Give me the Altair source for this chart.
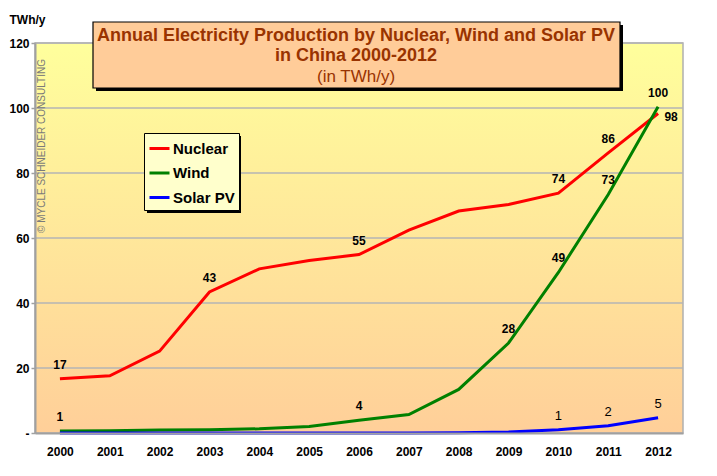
import altair as alt
import pandas as pd

# ---------------- data ----------------
years = [str(y) for y in range(2000, 2013)]
nuclear = [16.7, 17.6, 25.2, 43.4, 50.5, 53.1, 54.9, 62.4, 68.3, 70.3, 73.8, 86.2, 98.3]
wind = [0.6, 0.7, 0.9, 1.0, 1.3, 2.0, 3.9, 5.7, 13.4, 27.7, 49.4, 73.4, 100.4]
solar = [0.0, 0.0, 0.0, 0.0, 0.0, 0.0, 0.0, 0.0, 0.1, 0.3, 1.0, 2.2, 4.7]

nuclear_labels = ["17", "", "", "43", "", "", "55", "", "", "", "74", "86", ""]
nuclear_side_label = ["", "", "", "", "", "", "", "", "", "", "", "", "98"]
wind_labels = ["1", "", "", "", "", "", "4", "", "", "28", "49", "73", "100"]
solar_labels = ["", "", "", "", "", "", "", "", "", "", "1", "2", "5"]

series_names = ["Nuclear", "Wind", "Solar PV"]
series_colors = ["#FF0000", "#008000", "#0000FF"]
y_ticks = [0, 20, 40, 60, 80, 100, 120]
grid_values = [20, 40, 60, 80, 100, 120]

title_lines = ["Annual Electricity Production by Nuclear, Wind and Solar PV",
               "in China 2000-2012"]
subtitle = "(in TWh/y)"
copyright_text = "© MYCLE SCHNEIDER CONSULTING"

rows = []
for name, vals, labs in zip(series_names, [nuclear, wind, solar],
                            [nuclear_labels, wind_labels, solar_labels]):
    for yr, v, lab in zip(years, vals, labs):
        rows.append({"year": yr, "series": name, "value": v, "label": lab})
df = pd.DataFrame(rows)
side_df = pd.DataFrame({"year": years, "value": nuclear, "label": nuclear_side_label})
side_df = side_df[side_df["label"] != ""]
grid_df = pd.DataFrame({"value": grid_values})
one = pd.DataFrame({"k": [0]})

W, H = 648, 390
FONT = "Liberation Sans"

x_enc = alt.X("year:O", scale=alt.Scale(type="point", padding=0.5),
              axis=alt.Axis(title=None, labelAngle=0, ticks=False, labelPadding=13,
                            domainColor="#A0A0A0", domainWidth=2, grid=False,
                            labelFontSize=12, labelFontWeight="bold", labelColor="black",
                            zindex=1))
y_axis = alt.Axis(values=y_ticks, grid=False,
                  labelExpr="datum.value == 0 ? '-' : datum.label",
                  title="TWh/y", titleAngle=0, titleX=-26, titleY=-24,
                  titleAlign="left", titleBaseline="middle",
                  titleFontSize=12, titleFontWeight="bold", titleColor="black",
                  domainColor="#A0A0A0", domainWidth=2,
                  tickColor="#A0A0A0", tickSize=4, tickWidth=1.5,
                  labelPadding=2, labelFontSize=12, labelFontWeight="bold",
                  labelColor="black", zindex=1)
y_scale = alt.Scale(domain=[0, 120], nice=False)
y_enc = alt.Y("value:Q", scale=y_scale, axis=y_axis)

# background gradient of plot area
bg = alt.Chart(one).mark_rect(
    color=alt.LinearGradient(gradient="linear",
                             stops=[alt.GradientStop(color="#FFFF9C", offset=0),
                                    alt.GradientStop(color="#FFCF99", offset=1)],
                             x1=0, x2=0, y1=0, y2=1),
    stroke="#B0B0B0", strokeWidth=1.5
).encode(x=alt.value(0), x2=alt.value(W), y=alt.value(0), y2=alt.value(H))

grid = alt.Chart(grid_df).mark_rule(color="#B4B4B4", strokeWidth=1.5).encode(
    y=alt.Y("value:Q", scale=y_scale, axis=y_axis)
)

copyright_mark = alt.Chart(one).mark_text(
    text=copyright_text, angle=270, fontSize=10, color="#7A7A7A",
    align="center", baseline="middle"
).encode(x=alt.value(7), y=alt.value(103))

# title box
title_shadow = alt.Chart(one).mark_rect(color="black").encode(
    x=alt.value(61), x2=alt.value(588), y=alt.value(-18), y2=alt.value(48))
title_box = alt.Chart(one).mark_rect(fill="#FFCC99", stroke="black", strokeWidth=1.2).encode(
    x=alt.value(58), x2=alt.value(585), y=alt.value(-21), y2=alt.value(45))
title1 = alt.Chart(one).mark_text(text=title_lines[0], fontSize=18, fontWeight="bold",
                                  color="#993300", align="center", baseline="middle"
                                  ).encode(x=alt.value(321), y=alt.value(-7))
title2 = alt.Chart(one).mark_text(text=title_lines[1], fontSize=18, fontWeight="bold",
                                  color="#993300", align="center", baseline="middle"
                                  ).encode(x=alt.value(321), y=alt.value(13))
title3 = alt.Chart(one).mark_text(text=subtitle, fontSize=17, color="#993300",
                                  align="center", baseline="middle"
                                  ).encode(x=alt.value(321), y=alt.value(34))

legend_shadow = alt.Chart(one).mark_rect(color="black").encode(
    x=alt.value(112), x2=alt.value(206), y=alt.value(93), y2=alt.value(170))

lines = alt.Chart(df).mark_line(strokeWidth=3).encode(
    x=x_enc, y=y_enc,
    color=alt.Color("series:N",
                    scale=alt.Scale(domain=series_names, range=series_colors),
                    sort=series_names,
                    legend=alt.Legend(orient="none", legendX=109, legendY=90, title=None,
                                      symbolType="stroke", symbolStrokeWidth=3,
                                      symbolSize=400, labelFontSize=15,
                                      labelFontWeight="bold", labelColor="black",
                                      fillColor="#FFFFCC", strokeColor="black",
                                      padding=4, rowPadding=4.5, labelOffset=2)),
)

bold_labels = alt.Chart(df).transform_filter(
    "datum.label != '' && datum.series != 'Solar PV'"
).mark_text(fontSize=12, fontWeight="bold", color="black", dy=-14,
            align="center", baseline="middle").encode(
    x=alt.X("year:O"), y=alt.Y("value:Q"), text="label:N")

solar_text = alt.Chart(df).transform_filter(
    "datum.label != '' && datum.series == 'Solar PV'"
).mark_text(fontSize=13, color="black", dy=-14,
            align="center", baseline="middle").encode(
    x=alt.X("year:O"), y=alt.Y("value:Q"), text="label:N")

side_text = alt.Chart(side_df).mark_text(
    fontSize=12, fontWeight="bold", color="black", dx=13, dy=3,
    align="center", baseline="middle").encode(
    x=alt.X("year:O"), y=alt.Y("value:Q"), text="label:N")

chart = alt.layer(
    bg, grid, copyright_mark, lines, bold_labels, solar_text, side_text,
    title_shadow, title_box, title1, title2, title3, legend_shadow
).properties(
    width=W, height=H,
    autosize="none",
    padding={"left": 27, "top": 35, "right": 20, "bottom": 25},
).configure(font=FONT).configure_view(stroke=None)

chart.save("out.html", embed_options={"renderer": "svg", "actions": False})
